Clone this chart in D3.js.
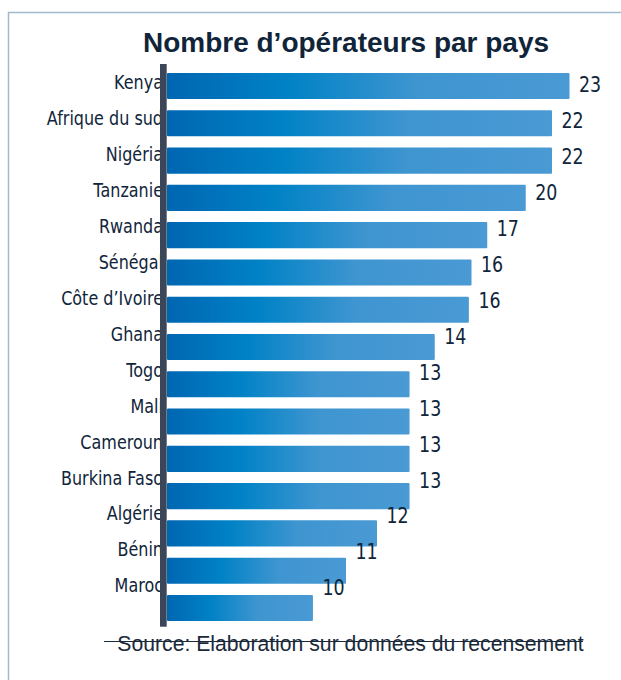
<!DOCTYPE html>
<html>
<head>
<meta charset="utf-8">
<script src="https://cdn.jsdelivr.net/npm/d3@7"></script>
<style>
    html, body { margin: 0; padding: 0; background: #ffffff; }
    svg { display: block; }
</style>
</head>
<body>
<svg id="chart" width="621" height="680"></svg>
<script>
/* Data */
/* **** */
var categories = ['Kenya', 'Afrique du sud', 'Nigéria', 'Tanzanie', 'Rwanda', 'Sénégal',
    'Côte d’Ivoire', 'Ghana', 'Togo', 'Mali', 'Cameroun', 'Burkina Faso', 'Algérie', 'Bénin', 'Maroc'];

// Numbers printed next to the bars
var values = [23, 22, 22, 20, 17, 16, 16, 14, 13, 13, 13, 13, 12, 11, 10];

// Bar lengths as drawn in the picture (same unit as values, they do not match exactly)
var barLengths = [23, 22, 22, 20.5, 18.3, 17.4, 17.25, 15.3, 13.86, 13.86, 13.86, 13.86, 12, 10.23, 8.34];

var titleText = 'Nombre d’opérateurs par pays';
var sourceText = 'Source: Elaboration sur données du recensement';


/* Setup */
/* ***** */
var svg = d3.select('#chart');
var textColor = '#10253a';

var x = d3.scaleLinear()
    .domain([0, 23])
    .range([167, 569.5]);

// bars and their labels drift apart, so each gets its own scale
var yBar = d3.scaleBand()
    .domain(categories)
    .range([73, 621])
    .paddingInner(0.3)
    .paddingOuter(0);

var yLabel = d3.scalePoint()
    .domain(categories)
    .range([89.3, 592.3]);

var defs = svg.append('defs');
var grad = defs.append('linearGradient')
    .attr('id', 'barGrad')
    .attr('x1', 0).attr('x2', 1)
    .attr('y1', 0).attr('y2', 0);
[[0, '#0066b2'], [0.3, '#0082c6'], [0.62, '#3e95d0'], [1, '#4a9ad4']].forEach(function (s) {
    grad.append('stop')
        .attr('offset', s[0])
        .attr('stop-color', s[1]);
});

// frame
svg.append('path')
    .attr('d', 'M8.5,680V12.5H621')
    .attr('fill', 'none')
    .attr('stroke', '#9fb9cd')
    .attr('stroke-width', 1.5);

// title
svg.append('text')
    .attr('x', 346)
    .attr('y', 51.7)
    .attr('text-anchor', 'middle')
    .attr('font-family', '"Liberation Sans", Arial, sans-serif')
    .attr('font-weight', 'bold')
    .attr('font-size', 28)
    .attr('fill', textColor)
    .text(titleText);


/* Bars */
/* **** */
svg.append('g')
    .attr('class', 'bars')
    .selectAll('rect')
    .data(categories)
    .enter()
    .append('rect')
    .attr('x', x(0))
    .attr('y', function (d) { return yBar(d); })
    .attr('width', function (d, i) { return x(barLengths[i]) - x(0); })
    .attr('height', yBar.bandwidth())
    .attr('rx', 1)
    .attr('fill', 'url(#barGrad)');

// category labels (narrow font, squeezed horizontally)
svg.append('g')
    .attr('class', 'labels')
    .selectAll('text')
    .data(categories)
    .enter()
    .append('text')
    .attr('transform', function (d) { return 'translate(163,' + yLabel(d) + ') scale(0.82,1)'; })
    .attr('text-anchor', 'end')
    .attr('font-family', '"DejaVu Sans", sans-serif')
    .attr('font-size', 19.5)
    .attr('fill', textColor)
    .text(function (d) { return d; });

// value labels
svg.append('g')
    .attr('class', 'values')
    .selectAll('text')
    .data(categories)
    .enter()
    .append('text')
    .attr('transform', function (d, i) {
        return 'translate(' + (x(barLengths[i]) + 9.5) + ',' + (yLabel(d) + 3) + ') scale(0.83,1)';
    })
    .attr('font-family', '"DejaVu Sans", sans-serif')
    .attr('font-size', 21)
    .attr('fill', textColor)
    .text(function (d, i) { return values[i]; });

// vertical axis
svg.append('rect')
    .attr('x', 160)
    .attr('y', 64)
    .attr('width', 6.7)
    .attr('height', 626.7 - 64)
    .attr('fill', '#3b4658');


/* Source */
/* ****** */
svg.append('text')
    .attr('x', 117.3)
    .attr('y', 650.7)
    .attr('font-family', '"Liberation Sans", Arial, sans-serif')
    .attr('font-size', 21.2)
    .attr('fill', '#1a2a3b')
    .text(sourceText);

svg.append('line')
    .attr('x1', 104).attr('x2', 583)
    .attr('y1', 641.5).attr('y2', 641.5)
    .attr('stroke', '#1a2a3b')
    .attr('stroke-width', 1.2);
</script>
</body>
</html>
